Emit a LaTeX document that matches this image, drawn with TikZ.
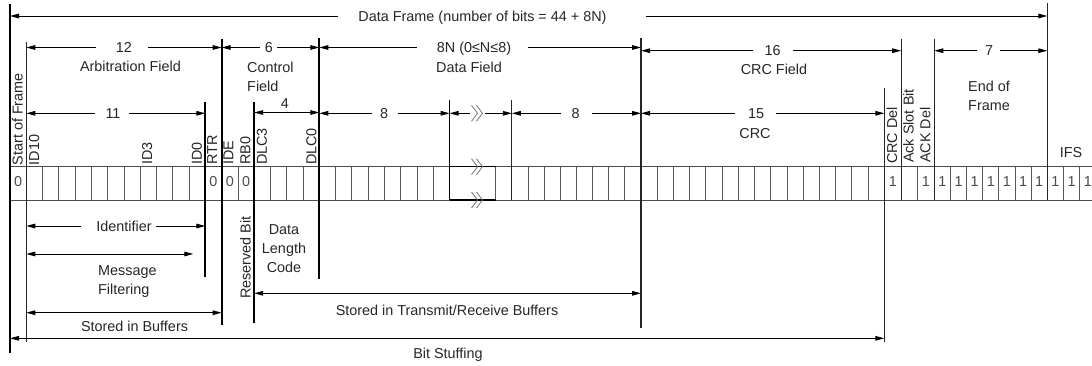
\documentclass[tikz,border=0pt]{standalone}
\usepackage{fontspec}
\setmainfont{Liberation Sans}
\usetikzlibrary{arrows.meta}

% dimension line split around its label: node, left gap, right gap, left bound, right bound
\newcommand\gapdim[5]{%
  \draw[dim] ([xshift=-#2]#1.west) -- (#1.west -| #4);
  \draw[dim] ([xshift=#3]#1.east) -- (#1.east -| #5);}

\begin{document}
\begin{tikzpicture}[x=1pt,y=-1pt,
  font=\fontsize{14.4}{19}\selectfont,
  every node/.style={text=black!85},
  dimtip/.tip={Triangle[length=9pt,width=4.6pt]},
  dim/.style={draw=black, line width=0.9pt, -dimtip},
  both/.style={draw=black, line width=0.9pt, dimtip-dimtip},
  lbl/.style={inner sep=0pt, text height=10.4pt, text depth=0pt},
  multi/.style={inner sep=0pt, anchor=north},
  vlab/.style={inner sep=0pt, rotate=90, anchor=north west},
  bit/.style={lbl, text=black!70},
  heavy/.style={line width=1.8pt, black},
  light/.style={line width=1.1pt, black!85},
  cell/.style={line width=0.8pt, black!65},
  rowedge/.style={line width=1pt, black!70},
  brkmark/.pic={\draw[line width=0.8pt, black!55]
     (-6,-8) -- (0,0) -- (-6,8) (-1,-8) -- (5,0) -- (-1,8);}
]
\useasboundingbox (0,0) rectangle (1092,365);

% field boundaries
\coordinate (vA) at (10,0);      % frame start
\coordinate (vB) at (26.28,0);   % arbitration start
\coordinate (vC) at (205.36,0);  % end of identifier
\coordinate (vD) at (221.64,0);  % control start
\coordinate (vE) at (254.2,0);   % DLC start
\coordinate (vF) at (319.3,0);   % data start
\coordinate (vG) at (449.56,0);  % data break (left)
\coordinate (vH) at (511.84,0);  % data break (right)
\coordinate (vI) at (641,0);     % CRC start
\coordinate (vJ) at (884.3,0);   % CRC delimiter
\coordinate (vK) at (901.2,0);   % ACK slot
\coordinate (vL) at (934.3,0);   % end of frame start
\coordinate (vM) at (1047.3,0);  % IFS start

% bit row
\draw[rowedge] (10,166.7) -- (1092,166.7) (10,200) -- (1092,200);
\foreach \k in {1,...,26} \draw[cell] ({10+16.28*\k},166.7) -- ++(0,33.3);
\draw[cell] (495.7,166.7) -- ++(0,33.3);
\foreach \j in {2,...,8} \draw[cell] ({495.7+16.144*\j},166.7) -- ++(0,33.3);
\foreach \m in {1,...,14} \draw[cell] ({641+16.22*\m},166.7) -- ++(0,33.3);
\draw[cell] (917.6,166.7) -- ++(0,33.3);
\foreach \n in {1,...,6} \draw[cell] ({934.3+16.14*\n},166.7) -- ++(0,33.3);
\draw[cell] (1063.5,166.7) -- ++(0,33.3) (1079.7,166.7) -- ++(0,33.3);
\draw[line width=1.5pt] (449.56,166.7) -- (495.7,166.7) (449.56,200) -- (495.7,200);
\pic at (477.5,166.7) {brkmark};
\pic at (477.5,200) {brkmark};

% boundary lines
\draw[heavy] (10,4) -- (10,353);
\draw[light] (26.28,42) -- (26.28,341.7);
\draw[heavy] (205.36,101.7) -- (205.36,276.7);
\draw[heavy] (221.64,39) -- (221.64,325);
\draw[heavy] (254.2,101.7) -- (254.2,323);
\draw[heavy] (319.3,38) -- (319.3,279.3);
\draw[heavy] (449.56,100) -- (449.56,200);
\draw[light] (511.84,100) -- (511.84,200);
\draw[light] (641,38) -- (641,328);
\draw[light] (884.3,88) -- (884.3,341.7);
\draw[light] (901.2,39) -- (901.2,200);
\draw[light] (934.3,39) -- (934.3,200);
\draw[light] (1047.3,3) -- (1047.3,200);

% bit values
\foreach \x [count=\i] in {18.14,213.5,229.78,246.06}
  \node[bit] (z\i) at (\x,181.5) {0};
\foreach \x [count=\i] in {892.75,925.95,942.37,958.51,974.65,990.79,1006.93,1023.07,1039.21,1055.4,1071.6,1087.8}
  \node[bit] (o\i) at (\x,181.5) {1};

% bit names
\node[vlab] (lSOF) at (12,165.5) {Start of Frame};
\node[vlab] (lID10) at (28.8,165.5) {ID10};
\node[vlab] (lID3) at (141.8,165) {ID3};
\node[vlab] (lID0) at (191.5,165) {ID0};
\node[vlab] (lRTR) at (207,165) {RTR};
\node[vlab] (lIDE) at (223.3,165) {IDE};
\node[vlab] (lRB0) at (240,165) {RB0};
\node[vlab] (lDLC3) at (256.5,165) {DLC3};
\node[vlab] (lDLC0) at (306,165) {DLC0};
\node[vlab] (lCRCD) at (886.5,164) {CRC Del};
\node[vlab] (lACKS) at (903,163) {Ack Slot Bit};
\node[vlab] (lACKD) at (919.8,163) {ACK Del};
\node[vlab] (lRes) at (240,299) {Reserved Bit};

% whole frame
\node[lbl] (tFrame) at (482.5,16) {Data Frame (number of bits = 44 + 8N)};
\gapdim{tFrame}{20pt}{39pt}{vA}{vM}

% fields
\node[lbl] (t12) at (124,47.5) {12};
\gapdim{t12}{20pt}{16pt}{vB}{vD}
\node[lbl] (tArb) at (130.5,66) {Arbitration Field};
\node[lbl] (t6) at (269,47.5) {6};
\gapdim{t6}{5pt}{4pt}{vD}{vF}
\node[multi, anchor=north west, align=left] (tCtl) at (247,61.4) {Control\\Field};
\node[lbl] (t8N) at (474,47.5) {8N (0≤N≤8)};
\gapdim{t8N}{20pt}{17pt}{vF}{vI}
\node[lbl] (tData) at (469,67) {Data Field};
\node[lbl] (t16) at (772.5,50.7) {16};
\gapdim{t16}{11pt}{12pt}{vI}{vK}
\node[lbl] (tCRCF) at (774,69) {CRC Field};
\node[lbl] (t7) at (989,50.7) {7};
\gapdim{t7}{8pt}{7pt}{vL}{vM}
\node[multi, align=center] (tEOF) at (989,80.7) {End of\\Frame};

% sub-fields
\node[lbl] (t11) at (113,113.3) {11};
\gapdim{t11}{10pt}{8pt}{vB}{vC}
\node[lbl] (t4) at (285,103.5) {4};
\coordinate (yDLC) at (0,112.5);
\draw[both] (vE |- yDLC) -- (vF |- yDLC);
\node[lbl] (t8a) at (384,113.3) {8};
\gapdim{t8a}{8pt}{10pt}{vF}{vG}
\coordinate (brk) at (477.5,113.3);
\draw[dim] ([xshift=-7.5pt]brk) -- (brk -| vG);
\draw[dim] ([xshift=7.5pt]brk) -- (brk -| vH);
\pic at (brk) {brkmark};
\node[lbl] (t8b) at (575.5,113.3) {8};
\gapdim{t8b}{10pt}{12pt}{vH}{vI}
\node[lbl] (t15) at (756,113.3) {15};
\gapdim{t15}{13pt}{12pt}{vI}{vJ}
\node[lbl] (tCRC) at (755,133) {CRC};
\node[lbl] (tIFS) at (1071,152) {IFS};

% below the bit row
\node[lbl] (tId) at (124,226) {Identifier};
\gapdim{tId}{15pt}{4pt}{vB}{vC}
\coordinate (msgEnd) at (193.3,254);
\draw[both] (msgEnd -| vB) -- (msgEnd);
\node[multi, anchor=north west, align=left] (tMsg) at (98,265.7) {Message\\Filtering};
\node[multi, align=center] (tDLC) at (284,224.7) {Data\\Length\\Code};

\coordinate (ySB) at (0,312.7);
\draw[both] (vB |- ySB) -- (vD |- ySB);
\node[lbl] (tSB) at (134.5,326.7) {Stored in Buffers};

\coordinate (yTRB) at (0,293.3);
\draw[both] (vE |- yTRB) -- (vI |- yTRB);
\node[lbl] (tTRB) at (447,310) {Stored in Transmit/Receive Buffers};

\coordinate (yBS) at (0,338.3);
\draw[both] (vA |- yBS) -- (vJ |- yBS);
\node[lbl] (tBS) at (448,353) {Bit Stuffing};
\end{tikzpicture}
\end{document}
